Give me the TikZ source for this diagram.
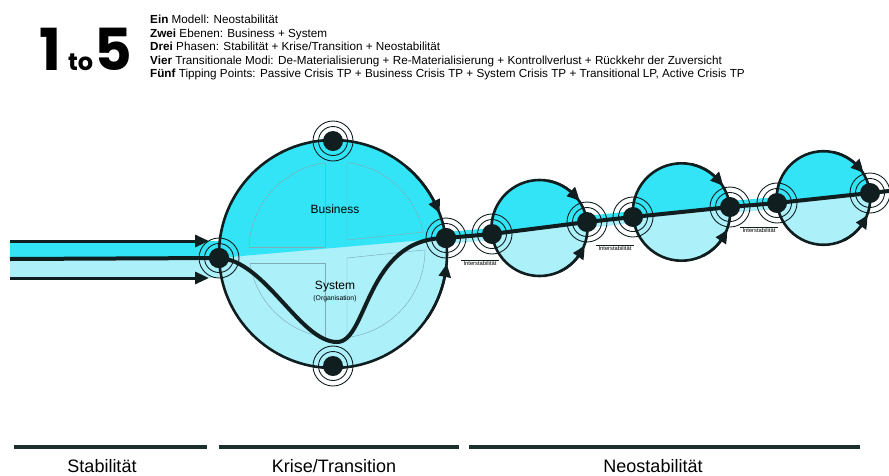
\documentclass[tikz,border=0pt]{standalone}
\usepackage{fontspec}
\setmainfont{Liberation Sans}
\newfontfamily\logofont{Poppins}
\usetikzlibrary{arrows.meta,calc,bending}
\definecolor{ink}{RGB}{16,30,32}
\definecolor{cyD}{RGB}{50,228,246}
\definecolor{cyL}{RGB}{172,240,250}
\definecolor{faint}{RGB}{128,172,180}
\definecolor{phasecol}{RGB}{28,48,48}
\tikzset{
  tpdot/.style={circle, fill=ink, minimum size=20pt, inner sep=0pt},
  ring/.style={draw=ink, line width=0.9pt},
  rim/.style={draw=ink, line width=2.6pt},
  arcarrow/.style={draw=ink, line width=2.6pt, -{Triangle[length=13pt,width=12pt,bend]}},
  flow/.style={draw=ink, line width=4pt},
  inarrow/.style={draw=ink, line width=3pt, -{Triangle[length=14pt,width=12pt]}},
  faintl/.style={draw=faint, line width=0.45pt},
  istab/.style={font=\fontsize{5.8}{6}\selectfont, inner xsep=2pt, inner ysep=1.2pt, anchor=north},
  overl/.style={draw=ink, line width=0.6pt},
  phase/.style={draw=phasecol, line width=4pt},
  phaselabel/.style={font=\fontsize{18}{20}\selectfont, anchor=base, inner sep=0pt},
  headline/.style={font=\fontsize{11.7}{13}\selectfont, anchor=base west, inner sep=0pt},
  lvl/.style={font=\fontsize{12}{14}\selectfont, inner sep=0pt}
}
\newcommand\tpnode[2]{\node[tpdot] (#1) at (#2) {};
  \draw[ring] (#1.center) circle[radius=14.5] circle[radius=20];}
\newcommand\halves[4]{%
  \fill[cyL] (#1) circle[radius=#2];
  \path ($(#4)!3!(#3)$) coordinate (ha) ($(#3)!3!(#4)$) coordinate (hb);
  \begin{scope}
    \clip (ha) -- (hb) -- ($(hb)+(0,-300)$) -- ($(ha)+(0,-300)$) -- cycle;
    \fill[cyD] (#1) circle[radius=#2];
  \end{scope}}
\newcommand\band[2]{%
  \fill[cyD] (#1) -- (#2) -- ($(#2)+(0,-6)$) -- ($(#1)+(0,-6)$) -- cycle;
  \fill[cyL] (#1) -- (#2) -- ($(#2)+(0,6)$) -- ($(#1)+(0,6)$) -- cycle;}
\newcommand\quadr[1]{%
  \begin{scope}\clip (337,250) circle[radius=88]; \draw[faintl] #1; \end{scope}
  \begin{scope}\clip #1; \draw[faintl] (337,250) circle[radius=88]; \end{scope}}
\begin{document}
\begin{tikzpicture}[x=1pt,y=-1pt]
\useasboundingbox (0,0) rectangle (889,475);

% ---- positions
\coordinate (pL) at (219,258);
\coordinate (pT) at (333,141);
\coordinate (pB) at (333,366);
\coordinate (p1) at (446,238);
\coordinate (p2) at (492,234);
\coordinate (p3) at (587,222);
\coordinate (p4) at (633,217);
\coordinate (p5) at (730,207);
\coordinate (p6) at (777,203);
\coordinate (p7) at (870,193);
\coordinate (pend) at (889,191);
\coordinate (bc) at (333,254);
\coordinate (c1) at (539.5,228);
\coordinate (c2) at (681.5,212);
\coordinate (c3) at (823.5,198);

% ---- fills
\fill[cyD] (10,241) rectangle (219,259);
\fill[cyL] (10,259) rectangle (219,278);
\halves{bc}{114}{pL}{p1}
\halves{c1}{48}{p2}{p3}
\halves{c2}{48.7}{p4}{p5}
\halves{c3}{46.8}{p6}{p7}
\band{p1}{p2}
\band{p3}{p4}
\band{p5}{p6}

% ---- faint inner figure
\quadr{(150,90) -- (325,90) -- (325,247) -- (150,247) -- cycle}
\quadr{(347,90) -- (520,90) -- (520,222) -- (347,240) -- cycle}
\quadr{(150,263) -- (325,263) -- (325,420) -- (150,420) -- cycle}
\quadr{(347,258) -- (520,240) -- (520,420) -- (347,420) -- cycle}

% ---- circle outlines with arrows
\draw[rim] (bc) circle[radius=114];
\draw[arcarrow] (bc) ++(-50:114) arc[start angle=-50, end angle=-21, radius=114];
\draw[arcarrow] (bc) ++(35:114) arc[start angle=35, end angle=5, radius=114];
\draw[rim] (c1) circle[radius=48];
\draw[arcarrow] (c1) ++(-80:48) arc[start angle=-80, end angle=-34, radius=48];
\draw[arcarrow] (c1) ++(65:48) arc[start angle=65, end angle=21, radius=48];
\draw[rim] (c2) circle[radius=48.7];
\draw[arcarrow] (c2) ++(-78:48.7) arc[start angle=-78, end angle=-32, radius=48.7];
\draw[arcarrow] (c2) ++(65:48.7) arc[start angle=65, end angle=21, radius=48.7];
\draw[rim] (c3) circle[radius=46.8];
\draw[arcarrow] (c3) ++(-78:46.8) arc[start angle=-78, end angle=-32, radius=46.8];
\draw[arcarrow] (c3) ++(65:46.8) arc[start angle=65, end angle=21, radius=46.8];

% ---- nodes
\tpnode{nL}{pL}
\tpnode{nT}{pT}
\tpnode{nB}{pB}
\tpnode{n1}{p1}
\tpnode{n2}{p2}
\tpnode{n3}{p3}
\tpnode{n4}{p4}
\tpnode{n5}{p5}
\tpnode{n6}{p6}
\tpnode{n7}{p7}

% ---- input arrows
\coordinate (ta) at (10,241); \coordinate (tb) at (209,241);
\coordinate (ma) at (10,259);
\coordinate (ba) at (10,278); \coordinate (bb) at (209,278);
\draw[inarrow] (ta) -- (tb);
\draw[inarrow] (ba) -- (bb);
\draw[flow] (ma) -- (nL.center);

% ---- flow lines
\coordinate (dip) at (337,342);
\draw[flow] (nL.center) .. controls (265,260) and (300,342) .. (dip)
  .. controls (368,342) and (365,238) .. (n1.center);
\draw[flow] (n1.center) -- (n2.center) -- (n3.center) -- (n4.center) -- (n5.center)
  -- (n6.center) -- (n7.center) -- (pend);
\fill[ink] (nL) circle[radius=10]; \fill[ink] (n1) circle[radius=10];

% ---- labels in circle
\node[lvl] (tbus) at (335,209) {Business};
\node[lvl] (tsys) at (335,287) {System};
\node[font=\fontsize{6.8}{8}\selectfont, inner sep=0pt] (torg) at (335,298.5) {(Organisation)};

% ---- Interstabilitaet
\node[istab] (i1) at (480,260) {Interstabilität};
\draw[overl] (i1.north west) -- (i1.north east);
\node[istab] (i2) at (615,245) {Interstabilität};
\draw[overl] (i2.north west) -- (i2.north east);
\node[istab] (i3) at (759,227) {Interstabilität};
\draw[overl] (i3.north west) -- (i3.north east);

% ---- header
\node[font=\logofont\bfseries\fontsize{58}{60}\selectfont, anchor=base west, inner sep=0pt] (one) at (39,70) {1};
\node[font=\logofont\bfseries\fontsize{24}{26}\selectfont, anchor=base west, inner sep=0pt] (to) at (68,70) {to};
\node[font=\logofont\bfseries\fontsize{58}{60}\selectfont, anchor=base west, inner sep=0pt] (five) at (94,70) {5};
\node[headline] (h1) at (150,23.5) {\textbf{Ein} Modell: Neostabilität};
\node[headline] (h2) at (150,37) {\textbf{Zwei} Ebenen: Business + System};
\node[headline] (h3) at (150,50.5) {\textbf{Drei} Phasen: Stabilität + Krise/Transition + Neostabilität};
\node[headline] (h4) at (150,64) {\textbf{Vier} Transitionale Modi: De-Materialisierung + Re-Materialisierung + Kontrollverlust + Rückkehr der Zuversicht};
\node[headline] (h5) at (150,77.5) {\textbf{Fünf} Tipping Points: Passive Crisis TP + Business Crisis TP + System Crisis TP + Transitional LP, Active Crisis TP};

% ---- phases
\draw[phase] (14,447) -- (207,447);
\draw[phase] (219,447) -- (459,447);
\draw[phase] (469,447) -- (860,447);
\node[phaselabel] (s1) at (102,472) {Stabilität};
\node[phaselabel] (s2) at (334,472) {Krise/Transition};
\node[phaselabel] (s3) at (653,472) {Neostabilität};
\end{tikzpicture}
\end{document}
